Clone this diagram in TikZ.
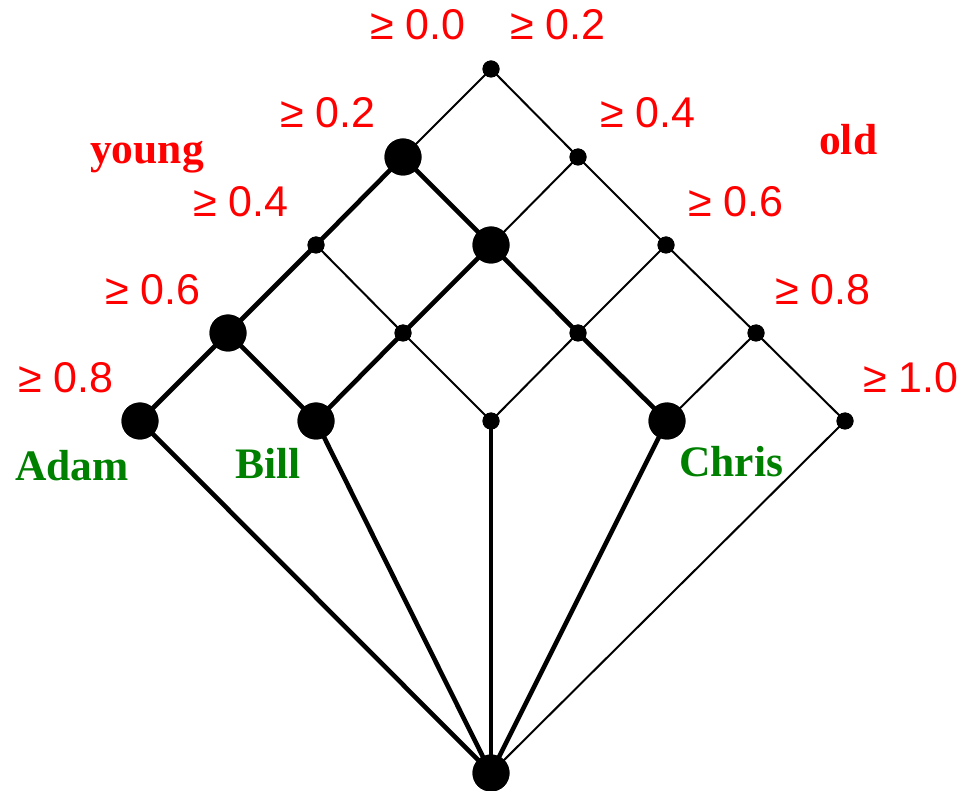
\documentclass[tikz,border=0pt]{standalone}
\usepackage{fontspec}
\setmainfont{Liberation Serif}
\newfontfamily\labelsans{Liberation Sans}
\begin{document}
\begin{tikzpicture}[x=1pt,y=-1pt,
  big/.style={circle,fill=black,inner sep=0pt,minimum size=37pt},
  small/.style={circle,fill=black,inner sep=0pt,minimum size=17pt},
  thin/.style={line width=2pt},
  thick/.style={line width=4.6pt},
  mid/.style={line width=3.3pt},
  thr/.style={text=red,anchor=base west,inner sep=0pt,font=\labelsans\fontsize{43}{43}\selectfont},
  cat/.style={text=red,anchor=base west,inner sep=0pt,font=\bfseries\fontsize{43.5}{43.5}\selectfont},
  who/.style={text=green!50!black,anchor=base west,inner sep=0pt,font=\bfseries\fontsize{43.5}{43.5}\selectfont}]
\useasboundingbox (0,0) rectangle (964,791);
\fill[white] (0,0) rectangle (964,791);

% lattice nodes
\node[small] (n00) at (491,69) {};
\node[big]   (n10) at (403,157) {};
\node[small] (n01) at (578,157) {};
\node[small] (n20) at (316,245) {};
\node[big]   (n11) at (491,245) {};
\node[small] (n02) at (666,245) {};
\node[big]   (n30) at (228,333) {};
\node[small] (n21) at (403,333) {};
\node[small] (n12) at (578,333) {};
\node[small] (n03) at (756,333) {};
\node[big]   (n40) at (140,421) {};
\node[big]   (n31) at (316,421) {};
\node[small] (n22) at (491,421) {};
\node[big]   (n13) at (667,421) {};
\node[small] (n04) at (845,421) {};
\node[big]   (bot) at (491,773) {};

% thin edges
\draw[thin] (n00.center) -- (n10.center);
\draw[thin] (n00.center) -- (n01.center);
\draw[thin] (n01.center) -- (n11.center);
\draw[thin] (n01.center) -- (n02.center);
\draw[thin] (n02.center) -- (n12.center);
\draw[thin] (n02.center) -- (n03.center);
\draw[thin] (n03.center) -- (n13.center);
\draw[thin] (n03.center) -- (n04.center);
\draw[thin] (n20.center) -- (n21.center);
\draw[thin] (n21.center) -- (n22.center);
\draw[thin] (n12.center) -- (n22.center);
\draw[thin] (n04.center) -- (bot.center);
% thick edges
\draw[thick] (n10.center) -- (n20.center);
\draw[thick] (n20.center) -- (n30.center);
\draw[thick] (n30.center) -- (n40.center);
\draw[thick] (n10.center) -- (n11.center);
\draw[thick] (n11.center) -- (n21.center);
\draw[thick] (n21.center) -- (n31.center);
\draw[thick] (n30.center) -- (n31.center);
\draw[thick] (n11.center) -- (n12.center);
\draw[thick] (n12.center) -- (n13.center);
\draw[thick] (n40.center) -- (bot.center);
\draw[thick] (n31.center) -- (bot.center);
\draw[thick] (n13.center) -- (bot.center);
\draw[mid] (n22.center) -- (bot.center);

% redraw dots over the line ends
\foreach \n in {n10,n11,n30,n40,n31,n13,bot}
  \fill (\n) circle (18.5pt);
\foreach \n in {n00,n01,n20,n02,n21,n12,n03,n22,n04}
  \fill (\n) circle (8.5pt);

% threshold labels
\node[thr] (t0) at (370,40) {≥ 0.0};
\node[thr] (tl1) at (280,128) {≥ 0.2};
\node[thr] (tl2) at (193,217) {≥ 0.4};
\node[thr] (tl3) at (105,305) {≥ 0.6};
\node[thr] (tl4) at (18,393) {≥ 0.8};
\node[thr] (tr1) at (510,40) {≥ 0.2};
\node[thr] (tr2) at (600,128) {≥ 0.4};
\node[thr] (tr3) at (688,217) {≥ 0.6};
\node[thr] (tr4) at (775,305) {≥ 0.8};
\node[thr] (tr5) at (863,393) {≥ 1.0};

% category labels
\node[cat] (young) at (90,164) {young};
\node[cat] (old) at (819,155) {old};

% objects
\node[who] (adam) at (15,480) {Adam};
\node[who] (bill) at (235,478) {Bill};
\node[who] (chris) at (679,476) {Chris};
\end{tikzpicture}
\end{document}
